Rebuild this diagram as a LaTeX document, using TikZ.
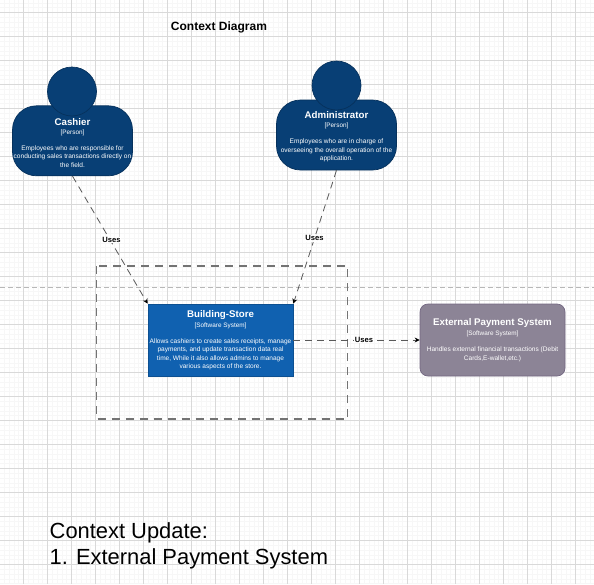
\documentclass[tikz,border=0pt]{standalone}
\usepackage{fontspec}
\setmainfont{Liberation Sans}
\usetikzlibrary{arrows.meta}
\definecolor{personfill}{HTML}{083F75}
\definecolor{personline}{HTML}{06315C}
\definecolor{sysfill}{HTML}{1061B0}
\definecolor{sysline}{HTML}{0D5091}
\definecolor{extfill}{HTML}{8C8496}
\definecolor{extline}{HTML}{736782}
\newcommand{\cardtext}[4][1.8pt]{{\fontsize{9.7}{11}\selectfont\bfseries #2}\\[#1]{\fontsize{6.4}{9}\selectfont #3}\\[7.8pt]#4}
\newcommand{\persontext}[3]{\rule{0pt}{10.5pt}\cardtext[1pt]{#1}{#2}{#3}}
\tikzset{
  gridminor/.style={draw=black!3,line width=0.6pt},
  gridmajor/.style={draw=black!15,line width=1pt},
  card/.style={text=white,align=center,inner sep=0pt,minimum width=120pt,minimum height=70pt,line width=0.7pt,font=\fontsize{6.55}{8.3}\selectfont},
  personbody/.style={card,rounded corners=24pt,fill=personfill,draw=personline},
  personhead/.style={circle,fill=personfill,draw=personline,minimum size=49pt,inner sep=0pt,line width=0.7pt},
  softsys/.style={card,minimum width=145pt,minimum height=72pt,fill=sysfill,draw=sysline},
  extsys/.style={card,minimum width=145pt,minimum height=72pt,rounded corners=8pt,fill=extfill,draw=extline},
  boundary/.style={draw=black!55,line width=1.1pt,dash pattern=on 8pt off 6pt},
  pagebreak/.style={draw=black!28,line width=1pt,dash pattern=on 5pt off 3pt},
  rel/.style={draw=black!65,line width=0.8pt,dash pattern=on 7pt off 5pt,-{Stealth[length=5pt,width=5pt,black]}},
  rellabel/.style={fill=white,inner sep=0.6pt,font=\fontsize{7.6}{9}\selectfont\bfseries},
}
\begin{document}
\begin{tikzpicture}[x=1pt,y=-1pt]
\useasboundingbox (0,0) rectangle (594,584);
\fill[white] (0,0) rectangle (594,584);
\foreach \k in {0,...,124}{
  \draw[gridminor] ({-0.5+4.8*\k},0) -- ({-0.5+4.8*\k},584);
  \draw[gridminor] (0,{-1.9+4.8*\k}) -- (594,{-1.9+4.8*\k});
}
\foreach \k in {0,...,24}{
  \draw[gridmajor] ({-0.5+24*\k},0) -- ({-0.5+24*\k},584);
  \draw[gridmajor] (0,{12.5+24*\k}) -- (594,{12.5+24*\k});
}
\draw[pagebreak] (0,287) -- (594,287);
\draw[boundary] (96.5,266) rectangle (347.5,419);

\node[font=\fontsize{12}{14}\selectfont\bfseries] (title) at (219,27.2) {Context Diagram};

\node[personbody] (cashier) at (72.5,140.8) {\persontext{Cashier}{[Person]}{Employees who are responsible for\\conducting sales transactions directly on\\the field.}};
\node[personhead] (cashierhead) at (72,91.5) {};
\node[personbody] (admin) at (336.5,135) {\persontext{Administrator}{[Person]}{Employees who are in charge of\\overseeing the overall operation of the\\application.}};
\node[personhead] (adminhead) at (336.5,85.5) {};

\node[softsys] (store) at (220.5,340) {\cardtext{Building-Store}{[Software System]}{Allows cashiers to create sales receipts, manage\\payments, and update transaction data real\\time, While it also allows admins to manage\\various aspects of the store.}};
\node[extsys] (ext) at (492.5,340) {\cardtext{External Payment System}{[Software System]}{Handles external financial transactions (Debit\\Cards,E-wallet,etc.)}};

\draw[rel] (cashier.south) -- (store.north west) node[rellabel,pos=0.5,xshift=1.5pt] (u1) {Uses};
\draw[rel] (admin.south) -- (store.north east) node[rellabel,pos=0.51] (u2) {Uses};
\draw[rel] (store.east) -- (ext.west) node[rellabel,pos=0.56] (u3) {Uses};

\node[anchor=north west,align=left,inner sep=0pt,font=\fontsize{21.9}{26}\selectfont] (note) at (49.5,522.5) {Context Update:\\1. External Payment System};
\end{tikzpicture}
\end{document}
